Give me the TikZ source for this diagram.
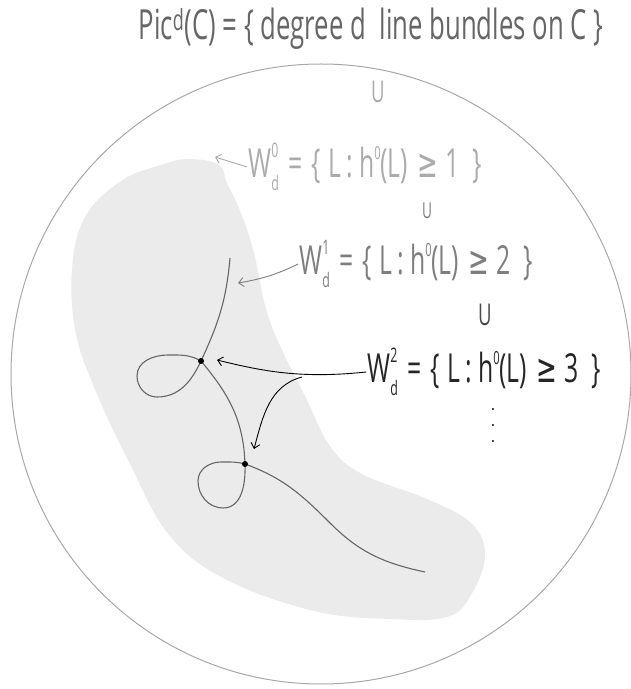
\documentclass[tikz,border=0pt]{standalone}
\usepackage{fontspec}
\usepackage{xcolor}
\usepackage{tikz}
\newfontfamily\handfont{Open Sans}[FakeStretch=0.62]
\newfontfamily\symfont{DejaVu Sans}[FakeStretch=0.62]
\usetikzlibrary{arrows.meta}
\definecolor{blobgray}{HTML}{EBEBEB}
\definecolor{rimgray}{HTML}{A8A8A8}
\definecolor{curvegray}{HTML}{666666}
\definecolor{titlegray}{HTML}{666666}
\definecolor{palegray}{HTML}{ABABAB}
\definecolor{midgray}{HTML}{7E7E7E}
\definecolor{darkgray}{HTML}{4A4A4A}
\newcommand{\scriptpair}[2]{\makebox[0pt][l]{\raisebox{0.5em}{\fontsize{20}{20}\selectfont #1}}\raisebox{-0.32em}{\fontsize{20}{20}\selectfont #2}}
\newcommand{\Wlevel}[2]{W\scriptpair{#1}{d}\hspace{9pt}=\hspace{9pt}\{\hspace{8pt}L\hspace{5pt}:\hspace{6pt}h\raisebox{0.45em}{\fontsize{18}{18}\selectfont 0}(L)\hspace{9pt}{\symfont ≥}\hspace{8pt}#2\hspace{12pt}\}}

\begin{document}
\begin{tikzpicture}[x=1pt,y=1pt,>={Straight Barb[length=5pt,width=9pt]},
  hand/.style={font=\handfont\fontsize{40}{44}\selectfont,inner sep=1pt},
  supset/.style={font=\handfont\fontsize{30}{34}\selectfont,inner sep=0pt},
  pt/.style={circle,fill=black,inner sep=0pt,minimum size=6pt}]
  \useasboundingbox (0,0) rectangle (631,689);
  % the shaded region and the big disc
  \fill[blobgray] plot[smooth cycle,tension=0.65] coordinates {
    (189,530) (219,524) (227,506) (241,476) (254,436) (266,380) (282,339)
    (306,291) (330,243) (362,215) (427,190) (471,166) (485,134) (471,94)
    (447,72) (390,70) (314,78) (225,110) (169,154) (129,227) (97,295)
    (76,355) (72,420) (85,472) (121,508) (161,524)};
  \draw[rimgray,line width=1pt] (321,315) circle (310);
  % the nodal curve
  \coordinate (p1) at (201,328);
  \coordinate (p2) at (245,225);
  \draw[curvegray,line width=1.1pt] (230,431) to[out=-95,in=65] (p1)
    to[out=-115,in=0] (157,292) to[out=180,in=-90] (137,313)
    to[out=90,in=180] (168,334) to[out=0,in=150] (p1)
    to[out=-50,in=92] (p2)
    to[out=-88,in=0] (223,181) to[out=180,in=-90] (198,208)
    to[out=90,in=180] (221,227) to[out=0,in=165] (p2)
    to[out=-20,in=135] (330,166) to[out=-45,in=168] (425,117);
  \node[pt] (d1) at (p1) {};
  \node[pt] (d2) at (p2) {};
  % labels
  \node[hand,titlegray,font=\handfont\fontsize{41.5}{44}\selectfont] (pic) at (371,660) {Pic\textsuperscript{d}(C) = \{ degree d\, line bundles on C \}};
  \node[supset,palegray] (u1) at (378,597) {U};
  \node[hand,palegray] (w0) at (365,522) {\Wlevel{0}{1}};
  \node[supset,midgray,font=\handfont\fontsize{22}{26}\selectfont] (u2) at (427,478) {U};
  \node[hand,midgray] (w1) at (416,425) {\Wlevel{1}{2}};
  \node[supset,darkgray] (u3) at (485,374) {U};
  \node[hand,black!85] (w2) at (484,317) {\Wlevel{2}{3}};
  \node[font=\fontsize{14}{16}\selectfont\bfseries,align=center,inner sep=0pt] (dots) at (493,264) {.\\.\\.};
  % arrows
  \coordinate (t0) at (215,532);
  \coordinate (t1) at (217,329);
  \coordinate (t1b) at (238,406);
  \coordinate (t2) at (254,240);
  \coordinate (br) at (302,312);
  \draw[->,palegray,line width=0.9pt] (w0.west) -- (t0);
  \draw[->,midgray,line width=0.9pt] (w1.west) to[bend left=8] (t1b);
  \draw[->,black,line width=0.9pt] (w2.west) .. controls (300,310) and (262,318) .. (t1);
  \draw[->,black,line width=0.9pt] (br) to[out=195,in=75] (t2);
\end{tikzpicture}
\end{document}
